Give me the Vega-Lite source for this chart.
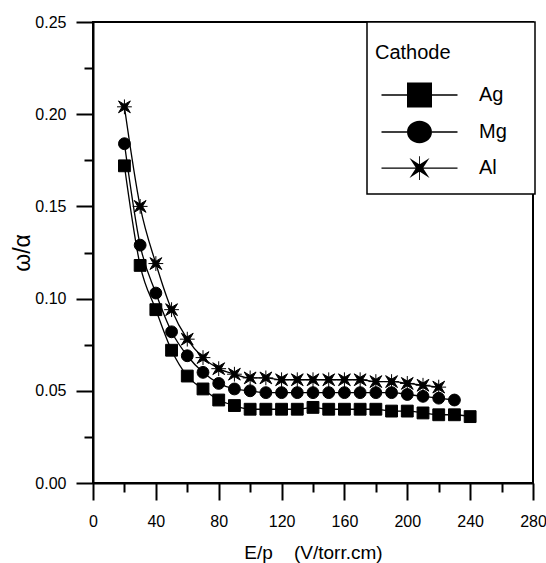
{
  "$schema": "https://vega.github.io/schema/vega-lite/v6.json",
  "width": 440,
  "height": 461,
  "autosize": {"type": "none"},
  "padding": {"left": 93, "top": 22, "right": 13, "bottom": 80},
  "background": "white",
  "config": {
    "view": {"stroke": "black", "strokeWidth": 2},
    "font": "Liberation Sans",
    "legend": {"strokeWidth": 1.5},
    "axis": {
      "domainColor": "black", "domainWidth": 2, "tickColor": "black", "tickWidth": 2,
      "labelColor": "black", "titleColor": "black", "grid": false,
      "labelFont": "Liberation Sans", "titleFont": "Liberation Sans",
      "labelFontSize": 16, "titleFontWeight": "normal", "titleFontSize": 19
    }
  },
  "data": {
    "values": [
      {"ep": 20, "r": 0.172, "c": "Ag"}, {"ep": 30, "r": 0.118, "c": "Ag"}, {"ep": 40, "r": 0.094, "c": "Ag"},
      {"ep": 50, "r": 0.072, "c": "Ag"}, {"ep": 60, "r": 0.058, "c": "Ag"}, {"ep": 70, "r": 0.051, "c": "Ag"},
      {"ep": 80, "r": 0.045, "c": "Ag"}, {"ep": 90, "r": 0.042, "c": "Ag"}, {"ep": 100, "r": 0.040, "c": "Ag"},
      {"ep": 110, "r": 0.040, "c": "Ag"}, {"ep": 120, "r": 0.040, "c": "Ag"}, {"ep": 130, "r": 0.040, "c": "Ag"},
      {"ep": 140, "r": 0.041, "c": "Ag"}, {"ep": 150, "r": 0.040, "c": "Ag"}, {"ep": 160, "r": 0.040, "c": "Ag"},
      {"ep": 170, "r": 0.040, "c": "Ag"}, {"ep": 180, "r": 0.040, "c": "Ag"}, {"ep": 190, "r": 0.039, "c": "Ag"},
      {"ep": 200, "r": 0.039, "c": "Ag"}, {"ep": 210, "r": 0.038, "c": "Ag"}, {"ep": 220, "r": 0.037, "c": "Ag"},
      {"ep": 230, "r": 0.037, "c": "Ag"}, {"ep": 240, "r": 0.036, "c": "Ag"},
      {"ep": 20, "r": 0.184, "c": "Mg"}, {"ep": 30, "r": 0.129, "c": "Mg"}, {"ep": 40, "r": 0.103, "c": "Mg"},
      {"ep": 50, "r": 0.082, "c": "Mg"}, {"ep": 60, "r": 0.069, "c": "Mg"}, {"ep": 70, "r": 0.060, "c": "Mg"},
      {"ep": 80, "r": 0.054, "c": "Mg"}, {"ep": 90, "r": 0.051, "c": "Mg"}, {"ep": 100, "r": 0.050, "c": "Mg"},
      {"ep": 110, "r": 0.049, "c": "Mg"}, {"ep": 120, "r": 0.049, "c": "Mg"}, {"ep": 130, "r": 0.049, "c": "Mg"},
      {"ep": 140, "r": 0.049, "c": "Mg"}, {"ep": 150, "r": 0.049, "c": "Mg"}, {"ep": 160, "r": 0.049, "c": "Mg"},
      {"ep": 170, "r": 0.049, "c": "Mg"}, {"ep": 180, "r": 0.049, "c": "Mg"}, {"ep": 190, "r": 0.049, "c": "Mg"},
      {"ep": 200, "r": 0.048, "c": "Mg"}, {"ep": 210, "r": 0.047, "c": "Mg"}, {"ep": 220, "r": 0.046, "c": "Mg"},
      {"ep": 230, "r": 0.045, "c": "Mg"},
      {"ep": 20, "r": 0.204, "c": "Al"}, {"ep": 30, "r": 0.150, "c": "Al"}, {"ep": 40, "r": 0.119, "c": "Al"},
      {"ep": 50, "r": 0.094, "c": "Al"}, {"ep": 60, "r": 0.078, "c": "Al"}, {"ep": 70, "r": 0.068, "c": "Al"},
      {"ep": 80, "r": 0.062, "c": "Al"}, {"ep": 90, "r": 0.059, "c": "Al"}, {"ep": 100, "r": 0.057, "c": "Al"},
      {"ep": 110, "r": 0.057, "c": "Al"}, {"ep": 120, "r": 0.056, "c": "Al"}, {"ep": 130, "r": 0.056, "c": "Al"},
      {"ep": 140, "r": 0.056, "c": "Al"}, {"ep": 150, "r": 0.056, "c": "Al"}, {"ep": 160, "r": 0.056, "c": "Al"},
      {"ep": 170, "r": 0.056, "c": "Al"}, {"ep": 180, "r": 0.055, "c": "Al"}, {"ep": 190, "r": 0.055, "c": "Al"},
      {"ep": 200, "r": 0.054, "c": "Al"}, {"ep": 210, "r": 0.053, "c": "Al"}, {"ep": 220, "r": 0.052, "c": "Al"}
    ]
  },
  "layer": [
    {
      "mark": {"type": "line", "color": "black", "strokeWidth": 1.3, "interpolate": "monotone"},
      "encoding": {
        "x": {
          "field": "ep", "type": "quantitative",
          "scale": {"domain": [0, 280], "nice": false},
          "axis": {"orient": "bottom", "values": [0, 40, 80, 120, 160, 200, 240, 280], "tickSize": 17, "labelPadding": 13,
                   "title": "E/p\u00a0\u00a0\u00a0\u00a0(V/torr.cm)", "titlePadding": 14, "labelFlush": false, "labelOverlap": false}
        },
        "y": {
          "field": "r", "type": "quantitative",
          "scale": {"domain": [0, 0.25], "nice": false},
          "axis": {"orient": "left", "values": [0, 0.05, 0.1, 0.15, 0.2, 0.25], "format": ".2f", "tickSize": 17, "labelPadding": 10,
                   "title": "ω/α", "titlePadding": 0, "titleFontSize": 23, "labelFlush": false, "labelOverlap": false}
        },
        "detail": {"field": "c"}
      }
    },
    {
      "mark": {"type": "point", "filled": true, "color": "black", "size": 140, "strokeWidth": 1, "stroke": "black", "opacity": 1},
      "encoding": {
        "x": {
          "field": "ep", "type": "quantitative",
          "axis": {"orient": "bottom", "values": [20, 60, 100, 140, 180, 220, 260], "tickSize": 9, "labels": false, "domain": false, "title": null}
        },
        "y": {
          "field": "r", "type": "quantitative",
          "axis": {"orient": "left", "values": [0.025, 0.075, 0.125, 0.175, 0.225], "tickSize": 9, "labels": false, "domain": false, "title": null}
        },
        "shape": {
          "field": "c", "type": "nominal",
          "scale": {"domain": ["Ag", "Mg", "Al"],
                    "range": ["square", "circle", "M-1.25,0L1.25,0M0,-1.25L0,1.25M1,-1L0.4,0L1,1L0,0.4L-1,1L-0.4,0L-1,-1L0,-0.4Z"]},
          "legend": null
        }
      }
    },
    {
      "transform": [{"filter": "datum.ep < 0"}],
      "mark": {"type": "point", "filled": true, "color": "black", "size": 625, "opacity": 1},
      "encoding": {
        "x": {"field": "ep", "type": "quantitative", "axis": null},
        "y": {"field": "r", "type": "quantitative", "axis": null},
        "shape": {
          "field": "c", "type": "nominal",
          "scale": {"domain": ["Ag", "Mg", "Al"],
                    "range": [
                      "M-3.04,-0.06L-1,-0.06L-1,0.06L-3.04,0.06ZM1,-0.06L3.04,-0.06L3.04,0.06L1,0.06ZM-1,-1L1,-1L1,1L-1,1ZM8.6,0L8.6,0.001Z",
                      "M-3.04,-0.06L-1,-0.06L-1,0.06L-3.04,0.06ZM1,-0.06L3.04,-0.06L3.04,0.06L1,0.06ZM-1,0A1,0.9 0 1,0 1,0A1,0.9 0 1,0 -1,0ZM8.6,0L8.6,0.001Z",
                      "M-3.04,-0.05L3.04,-0.05L3.04,0.05L-3.04,0.05ZM-0.035,-0.95L0.035,-0.95L0.035,0.95L-0.035,0.95ZM0.8,-0.8L0.28,0L0.8,0.8L0,0.28L-0.8,0.8L-0.28,0L-0.8,-0.8L0,-0.28ZM8.6,1.4L8.6,1.401Z"
                    ]},
          "legend": {
            "title": "Cathode", "orient": "none", "legendX": 274, "legendY": 0,
            "padding": 8, "strokeColor": "black", "fillColor": "white",
            "titleFontSize": 20, "titleFontWeight": "normal", "titleFont": "Liberation Sans", "titleColor": "black",
            "titleBaseline": "line-top", "titleLineHeight": 46, "titlePadding": 32.5,
            "labelFontSize": 20, "labelFont": "Liberation Sans", "labelColor": "black",
            "symbolSize": 625, "symbolOffset": 32, "labelOffset": 47, "rowPadding": 12,
            "symbolFillColor": "black", "symbolStrokeColor": "black", "symbolStrokeWidth": 0,
            "symbolOpacity": 1,
            "encode": {
              "legend": {"update": {"strokeWidth": {"value": 1.5}}}
            }
          }
        }
      }
    }
  ],
  "resolve": {"axis": {"x": "independent", "y": "independent"}, "scale": {"shape": "independent"}}
}
